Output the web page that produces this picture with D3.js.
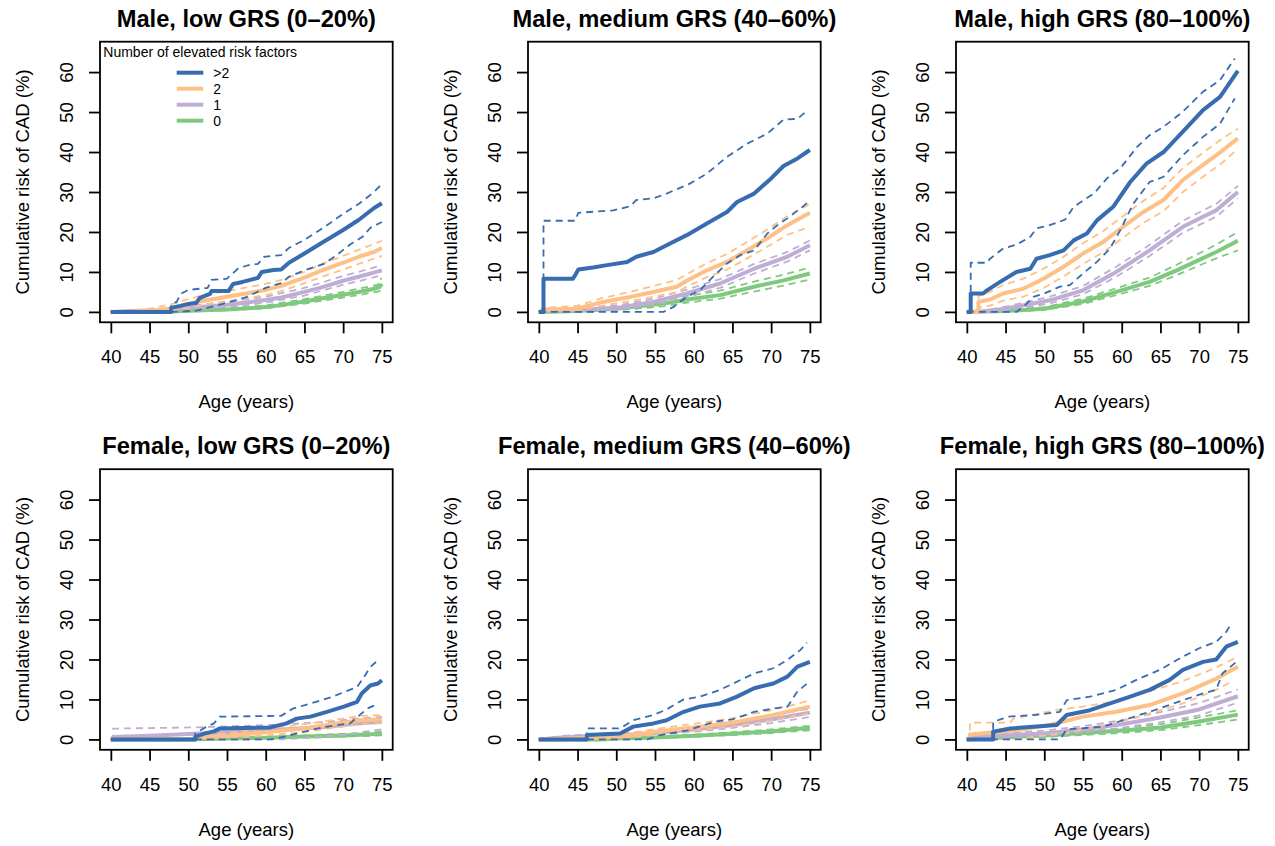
<!DOCTYPE html>
<html>
<head>
<meta charset="utf-8">
<script src="https://cdn.jsdelivr.net/npm/d3@7"></script>
<style>
  body { margin: 0; background: #fff; }
  svg text { font-family: "Liberation Sans", Arial, Helvetica, sans-serif; fill: #000; }
</style>
</head>
<body>
<svg id="chart" width="1275" height="846"></svg>
<script>
// cumulative risk (%) by age: [age, pct]
// g3 = >2 risk factors, g2 = 2, g1 = 1, g0 = 0 ; lo/hi = dashed 95% bands
const maleLow = {
  g3: [[40,0],[47.8,0],[47.8,1],[49,1.5],[50,2],[51,2.2],[51.5,3.5],[52.8,4.5],[53,5.2],[55.2,5.2],[55.8,7],[57,7.5],[58,8],[59,8.5],[59.5,10],[61,10.5],[62,10.6],[63,12.3],[65,14.6],[67,17],[70,20.5],[72,23],[74,26],[75,27.2]],
  g3hi: [[40,0],[47.8,0],[47.8,2],[48.5,2.5],[49,4.5],[50,5.5],[52.5,6],[53,8],[55,8.3],[56.5,11],[58,11.8],[59,12],[59.8,13.8],[62,14.2],[63,16],[65,18],[67,20.5],[70,24.5],[72,27],[74,30],[75,32]],
  g3lo: [[40,0],[47.8,0],[51,0.3],[52,0.8],[54.5,2],[57.5,3.7],[60,6],[62,7.2],[63,8.8],[65,10.4],[67.5,12],[69,14],[71,17],[72.5,18.8],[73.5,21],[75,22.5]],
  g2: [[40,0],[43,0],[45,0.4],[47,0.6],[48,1],[50,2],[52,2.8],[55,3.8],[58,4.8],[60,5.5],[62,6.5],[65,8.6],[67,10.2],[70,12.3],[72,13.8],[74,15],[75,16]],
  g2hi: [[40,0],[43,0.5],[45,0.8],[48,2],[50,3.2],[52,4.2],[55,5.2],[58,6.3],[60,7],[62,8],[65,10],[67,11.8],[70,14],[72,15.5],[75,17.8]],
  g2lo: [[40,0],[45,0],[48,0.3],[50,1],[52,1.8],[55,2.7],[58,3.6],[60,4.2],[62,5.2],[65,7.2],[67,8.6],[70,10.6],[72,12],[75,14]],
  g1: [[40,0],[43,0.2],[48,0.6],[50,1],[55,1.8],[58,2.5],[60,3],[62,3.6],[65,5],[67,6],[70,7.8],[72,8.8],[75,10.4]],
  g1hi: [[40,0],[43,0.4],[48,1],[50,1.5],[55,2.5],[60,3.8],[65,6],[70,9],[72,10],[75,11.7]],
  g1lo: [[40,0],[48,0.3],[50,0.6],[55,1.2],[60,2.3],[65,4.1],[70,6.8],[72,7.7],[75,9.2]],
  g0: [[40,0],[48,0.1],[50,0.3],[55,0.6],[60,1.2],[62,1.7],[65,2.6],[67,3.3],[70,4.3],[72,5],[74,5.8],[74.7,6.2],[75,7]],
  g0hi: [[40,0],[48,0.2],[50,0.5],[55,0.9],[60,1.6],[65,3.2],[70,5],[72,5.8],[74.5,6.8],[74.7,8.3],[75,8.3]],
  g0lo: [[40,0],[50,0.1],[55,0.4],[60,0.9],[65,2.1],[70,3.6],[72,4.2],[75,5.3]]
};

const maleMed = {
  g3: [[40,0],[40.6,0],[40.6,8.3],[44.4,8.3],[44.7,9.2],[45.1,10.6],[47,11.1],[48.8,11.7],[51.4,12.5],[52.6,13.8],[54.8,15],[56.5,16.7],[59.1,19.2],[61.7,22.1],[64.3,25],[65.6,27.5],[67.8,29.6],[70,33.4],[71.6,36.5],[73.4,38.4],[75,40.5]],
  g3hi: [[40,0],[40.6,0],[40.6,22.8],[44.7,22.8],[45.1,24.8],[49.6,25.4],[51.8,26.4],[52.6,28],[54.8,28.4],[56.5,29.6],[59.5,32.1],[61.7,34.6],[64.3,38.8],[66.9,42.1],[69.5,44.6],[71.6,48.1],[73.4,48.3],[74.5,50.1]],
  g3lo: [[40,0],[56.1,0],[57.4,1.25],[59.1,3.75],[60.8,5.4],[62.5,8.8],[64.3,12.1],[66,14.2],[67.8,15.4],[69.5,19.6],[70.8,21.7],[72.1,23.4],[73.8,25.9],[75,27.8]],
  g2: [[40,0],[40.6,0.6],[44.9,0.8],[48.3,2.5],[51.8,3.75],[54.8,5],[57.8,6.3],[59.1,7.8],[61.7,10.4],[64.3,12.5],[66.9,15.4],[69.5,18.4],[72.1,21.7],[75,24.8]],
  g2hi: [[40,0],[40.6,1],[44.9,1.5],[48.3,3.5],[51.8,5],[54.8,6.5],[57.8,8],[59.1,9.4],[61.7,12.2],[64.3,14.5],[66.9,17.5],[69.5,20.6],[72.1,24],[75,27]],
  g2lo: [[40,0],[44.9,0.3],[48.3,1.6],[51.8,2.7],[54.8,3.8],[57.8,4.9],[59.1,6.3],[61.7,8.7],[64.3,10.6],[66.9,13.4],[69.5,16.3],[72.1,19.3],[75,21.3]],
  g1: [[40,0],[40.6,0.2],[45,0.5],[50.5,1.1],[54.8,2.5],[59.1,4.6],[63.4,7.1],[67.8,10.8],[72.1,13.8],[75,16.7]],
  g1hi: [[40,0],[40.6,0.5],[45,0.9],[50.5,1.7],[54.8,3.3],[59.1,5.6],[63.4,8.2],[67.8,12],[72.1,15],[75,17.9]],
  g1lo: [[40,0],[45,0.2],[50.5,0.6],[54.8,1.8],[59.1,3.7],[63.4,6],[67.8,9.6],[72.1,12.6],[75,15.4]],
  g0: [[40,0],[45,0.2],[50,0.8],[56.1,2.1],[59.1,3.1],[63.4,4.2],[67.8,6.3],[71.6,7.9],[75,9.6]],
  g0hi: [[40,0],[45,0.4],[50,1.3],[56.1,2.9],[59.1,4],[63.4,5.3],[67.8,7.6],[71.6,9.3],[75,11.1]],
  g0lo: [[40,0],[47,0.1],[50,0.4],[56.1,1.4],[59.1,2.3],[63.4,3.3],[67.8,5.1],[71.6,6.6],[75,8.1]]
};

const maleHigh = {
  g3: [[40,0],[40.5,0],[40.5,4.6],[42.1,4.6],[42.6,5.4],[44.3,7.5],[46.4,10],[48.2,10.8],[49,13.3],[50.7,14.2],[52.5,15.4],[53.8,17.9],[55.5,19.6],[56.8,22.9],[58.9,26.3],[61.1,32.5],[63.2,37.1],[65.4,40],[67.9,45.1],[70.5,50.5],[72.7,53.8],[75,60.3]],
  g3hi: [[40,0],[40.5,0],[40.5,12.3],[42.6,12.3],[43,13.3],[44.7,15.9],[46.4,16.8],[48.2,18.8],[49,20.9],[50.7,21.7],[52.7,23.1],[53.8,26.3],[56.4,29.6],[58.1,33.4],[59.8,35.9],[62,41.3],[63.6,44.2],[65.4,46.3],[67.9,50.1],[70.5,55.1],[72.7,58],[74.6,63.4]],
  g3lo: [[40,0],[46.4,0],[47.3,1.25],[48.6,3.75],[50,4.6],[52,6.3],[53.3,6.7],[55,9.6],[56.8,12.5],[58.5,15.9],[59.8,20.4],[61.5,27.1],[63.6,32.5],[65.4,33.8],[67.9,39.2],[70.5,43.8],[72.7,47.1],[74.6,53.4]],
  g2: [[40,0],[41.5,0],[41.5,2.5],[43,3.1],[44.7,4.6],[47.3,5.8],[49.9,8.3],[52.5,11.3],[55,14.6],[57.6,17.5],[60.2,21.3],[62.8,25],[65.4,28],[67.9,33],[70.5,36.8],[73.1,40.5],[75,43.4]],
  g2hi: [[40,0],[41.5,0],[41.5,4],[43,5],[44.7,6.8],[47.3,8.3],[49.9,10.8],[52.5,13.8],[55,17.2],[57.6,20.2],[60.2,24],[62.8,27.8],[65.4,31],[67.9,36],[70.5,39.8],[73.1,43.5],[75,45.8]],
  g2lo: [[40,0],[41.5,0],[41.5,1],[43,1.6],[44.7,2.8],[47.3,3.8],[49.9,6],[52.5,8.9],[55,12],[57.6,14.9],[60.2,18.6],[62.8,22.3],[65.4,25.2],[67.9,30],[70.5,33.8],[73.1,37.5],[75,40.8]],
  g1: [[40,0],[42,0.1],[45,0.8],[50.7,2.9],[55,5.4],[59.3,10],[63.6,15.4],[67.9,21.3],[70.5,23.8],[72.2,25.4],[75,30]],
  g1hi: [[40,0],[42,0.3],[45,1.3],[50.7,3.8],[55,6.5],[59.3,11.3],[63.6,16.8],[67.9,22.8],[70.5,25.4],[72.2,27],[75,31.5]],
  g1lo: [[40,0],[43,0],[45,0.4],[50.7,2.1],[55,4.4],[59.3,8.8],[63.6,14],[67.9,19.8],[70.5,22.2],[72.2,23.8],[75,28.4]],
  g0: [[40,0],[45,0.2],[50,0.8],[55,2.6],[59.3,5],[63.6,7.5],[67.1,10.4],[72.2,15],[75,17.8]],
  g0hi: [[40,0],[45,0.4],[50,1.2],[55,3.3],[59.3,5.9],[63.6,8.6],[67.1,11.8],[72.2,16.8],[75,20]],
  g0lo: [[40,0],[46,0.1],[50,0.5],[55,2],[59.3,4.2],[63.6,6.5],[67.1,9.2],[72.2,13.4],[75,15.4]]
};

const femaleLow = {
  g3: [[40,0],[50.9,0],[50.9,0.7],[52.2,1.5],[53.3,2],[54.1,2.75],[60.6,3],[62.7,4],[64,5.2],[65.8,5.7],[67.9,6.9],[70.1,8.2],[71.8,9.4],[72.4,11.5],[73.5,13.5],[74.5,14],[75,14.8]],
  g3hi: [[40,0],[50.9,0],[50.9,1.5],[52.2,3],[53.3,4],[54.1,5.7],[62,5.9],[63.5,7.7],[66.5,9.4],[68.5,10.6],[71.8,13.1],[72.7,15.6],[73.5,18.1],[74.5,19.8]],
  g3lo: [[40,0],[60.6,0],[62.3,0.6],[64.9,1.9],[67.5,3.1],[70.9,4],[73.1,7.7],[74.5,8.9]],
  g2: [[40,0],[50.7,0],[52,0.5],[54.6,0.8],[57,1.2],[60.6,1.9],[64.9,2.75],[69.2,4],[72.2,4.8],[75,5]],
  g2hi: [[40,0],[50.7,0],[52,1],[54.6,1.5],[60.6,2.8],[64.9,3.8],[69.2,5],[72.2,5.9],[75,6.1]],
  g2lo: [[40,0],[54.6,0.2],[60.6,1.1],[64.9,1.8],[69.2,3],[72.2,3.8],[75,4]],
  g1: [[40,0],[40.3,0],[40.3,0.6],[45,0.9],[50.7,1.4],[55,1.8],[60.6,2.3],[67.5,3.1],[71.8,4],[75,4.4]],
  g1hi: [[40,0],[40.3,0],[40.3,2.7],[50.7,3],[60.6,3.6],[67.5,4.3],[71.8,5.2],[75,5.6]],
  g1lo: [[40,0],[62,0],[65,0.4],[70,1.1],[73,2],[75,2.5]],
  g0: [[40,0],[50,0],[55,0.2],[60,0.4],[65,0.7],[70,1],[75,1.4]],
  g0hi: [[40,0],[50,0.1],[55,0.3],[60,0.6],[65,1],[70,1.4],[75,1.9]],
  g0lo: [[40,0],[55,0],[60,0.2],[65,0.4],[70,0.7],[75,1]]
};

const femaleMed = {
  g3: [[40,0],[46.2,0],[46.2,1.1],[50.5,1.5],[52.2,3.2],[54.8,4],[56.5,4.8],[58.7,6.9],[60.8,8.2],[63.4,9],[65.6,10.7],[67.8,12.8],[70.3,14],[72.1,15.7],[73.4,18.2],[75,19.4]],
  g3hi: [[40,0],[46.2,0],[46.2,2.75],[50.5,2.75],[52.2,4.8],[54.8,6.1],[56.5,7.5],[58.7,10],[60.8,10.7],[63.4,12.4],[67.8,16.5],[70.3,17.8],[72.1,19.9],[73.8,22.4],[74.6,24.2]],
  g3lo: [[40,0],[54,0],[55.7,1.1],[59.1,2.2],[62.6,4.4],[65,5],[67.8,6.9],[70.3,7.7],[72.1,8.2],[73.4,12],[74.6,13.9]],
  g2: [[40,0],[44,0.2],[48,0.4],[52,1],[55,1.9],[60,3],[65,4.2],[70,6],[75,8.2]],
  g2hi: [[40,0],[44,0.4],[48,0.8],[52,1.6],[55,2.6],[60,3.9],[65,5.3],[70,7.3],[75,9.7]],
  g2lo: [[40,0],[48,0.1],[52,0.5],[55,1.2],[60,2.2],[65,3.2],[70,4.8],[75,6.5]],
  g1: [[40,0],[43,0.5],[46,0.8],[50,1],[55,1.6],[60,2.5],[65,3.6],[70,5],[75,6.7]],
  g1hi: [[40,0],[43,0.9],[46,1.2],[50,1.4],[55,2.1],[60,3.1],[65,4.4],[70,6],[75,7.7]],
  g1lo: [[40,0],[46,0.3],[50,0.6],[55,1.1],[60,1.9],[65,2.9],[70,4.1],[75,5.6]],
  g0: [[40,0],[48,0],[50,0.2],[55,0.5],[60,0.9],[65,1.4],[70,2],[75,2.9]],
  g0hi: [[40,0],[50,0.3],[55,0.7],[60,1.2],[65,1.8],[70,2.5],[75,3.4]],
  g0lo: [[40,0],[52,0],[55,0.3],[60,0.6],[65,1.1],[70,1.6],[75,2.3]]
};

const femaleHigh = {
  g3: [[40,0],[43.4,0],[43.4,1.9],[45.6,2.75],[49,3.2],[51.6,3.6],[52.9,6.1],[55.9,7.3],[58.5,9],[61.1,10.7],[63.6,12.4],[66.2,14.9],[67.9,17.4],[70.5,19.4],[72.2,20],[73.5,23.2],[75,24.4]],
  g3hi: [[40,0],[43.4,0],[43.4,4.4],[45.4,5.7],[48.8,6.1],[52,6.9],[52.9,9.8],[55.9,10.7],[59.3,12.4],[61.9,14.9],[64.9,17.4],[67.9,20.7],[70,22.8],[72.2,24.4],[73.5,26.9],[74.2,29.1]],
  g3lo: [[40,0],[52,0],[52.9,2.5],[57.6,3.2],[60.2,4.8],[63.6,6.9],[67.9,9.8],[70.5,11.5],[72.2,12.4],[73,16.5],[74.8,19.4]],
  g2: [[40,0],[40.4,0],[40.4,1.2],[46.4,2.3],[50.7,3.6],[55,5.7],[59.3,6.9],[63.6,8.6],[67.9,11.5],[72,15],[75,18.2]],
  g2hi: [[40,0],[40.4,0],[40.4,4.2],[45.6,4.2],[46,5.2],[52,7.5],[55,8.2],[59.3,9.6],[63.6,12],[67.9,14.6],[72,17.8],[75,20.7]],
  g2lo: [[40,0],[46,0],[50,1],[52.9,1.6],[57.6,3.5],[61,5],[63.6,6.5],[67.9,9],[72.2,12.4],[74.4,14.7]],
  g1: [[40,0],[41,0.8],[45,1],[50,1.5],[55,2.5],[60,3.8],[65,5.5],[70,7.5],[75,10.8]],
  g1hi: [[40,0],[41,1.3],[45,1.6],[50,2.2],[55,3.3],[60,4.8],[65,6.8],[70,9.1],[75,12.5]],
  g1lo: [[40,0],[43,0.2],[45,0.5],[50,0.9],[55,1.8],[60,2.9],[65,4.3],[70,6],[75,9.2]],
  g0: [[40,0],[43,0.3],[45,0.5],[50,1],[55,1.6],[60,2.2],[65,3],[70,4.5],[75,6.2]],
  g0hi: [[40,0],[43,0.6],[45,0.9],[50,1.4],[55,2.1],[60,2.8],[65,3.8],[70,5.5],[75,7.3]],
  g0lo: [[40,0],[45,0.2],[50,0.6],[55,1.1],[60,1.6],[65,2.3],[70,3.6],[75,5]]
};

const titles = [
  "Male, low GRS (0\u201320%)", "Male, medium GRS (40\u201360%)", "Male, high GRS (80\u2013100%)",
  "Female, low GRS (0\u201320%)", "Female, medium GRS (40\u201360%)", "Female, high GRS (80\u2013100%)"
];
const panelData = [maleLow, maleMed, maleHigh, femaleLow, femaleMed, femaleHigh];

const groupKeys = ["g0", "g1", "g2", "g3"];
const groupColors = { g0: "#7FC97F", g1: "#BEAED4", g2: "#FDC086", g3: "#386CB0" };
const legendLabels = [">2", "2", "1", "0"];
const legendKeys = ["g3", "g2", "g1", "g0"];

const ageTicks = [40, 45, 50, 55, 60, 65, 70, 75];
const riskTicks = [0, 10, 20, 30, 40, 50, 60];

// layout
const boxW = 292.7, boxH = 280.6;
const colLeft = [100, 528, 956];
const rowTop = [41.7, 469.2];

const x = d3.scaleLinear().domain([38.6, 76.4]).range([0, boxW]);
const y = d3.scaleLinear().domain([-2.6, 67.6]).range([boxH, 0]);

const line = d3.line()
  .x(d => x(d[0]))
  .y(d => y(d[1]));

const svg = d3.select("#chart");

panelData.forEach((data, i) => {
  const col = i % 3, row = Math.floor(i / 3);
  const g = svg.append("g")
    .attr("transform", `translate(${colLeft[col]},${rowTop[row]})`);

  // bands and curves, group 0 first so ">2" ends up on top
  groupKeys.forEach(k => {
    [k + "lo", k + "hi"].forEach(bk => {
      g.append("path")
        .datum(data[bk])
        .attr("d", line)
        .attr("fill", "none")
        .attr("stroke", groupColors[k])
        .attr("stroke-width", 1.8)
        .attr("stroke-dasharray", "7,5");
    });
    g.append("path")
      .datum(data[k])
      .attr("d", line)
      .attr("fill", "none")
      .attr("stroke", groupColors[k])
      .attr("stroke-width", 4)
      .attr("stroke-linejoin", "round");
  });

  // box
  g.append("rect")
    .attr("width", boxW).attr("height", boxH)
    .attr("fill", "none").attr("stroke", "#000").attr("stroke-width", 1.8);

  // x axis
  const xa = g.append("g")
    .attr("transform", `translate(0,${boxH})`)
    .call(d3.axisBottom(x).tickValues(ageTicks).tickSize(11).tickSizeOuter(0).tickPadding(17));
  xa.select(".domain").remove();
  xa.selectAll(".tick line").attr("stroke", "#000").attr("stroke-width", 1.8);
  xa.selectAll(".tick text").attr("font-size", 18.5).attr("font-family", null);

  // y axis, labels parallel to axis
  const ya = g.append("g")
    .call(d3.axisLeft(y).tickValues(riskTicks).tickSize(11).tickSizeOuter(0));
  ya.select(".domain").remove();
  ya.selectAll(".tick line").attr("stroke", "#000").attr("stroke-width", 1.8);
  ya.selectAll(".tick text")
    .attr("x", null).attr("dy", null)
    .attr("text-anchor", "middle")
    .attr("transform", "translate(-27.3,0) rotate(-90)")
    .attr("font-size", 18.5).attr("font-family", null);

  // axis titles
  g.append("text")
    .attr("x", boxW / 2).attr("y", boxH + 86)
    .attr("text-anchor", "middle").attr("font-size", 18.5)
    .text("Age (years)");
  g.append("text")
    .attr("transform", `translate(-71,${boxH / 2}) rotate(-90)`)
    .attr("text-anchor", "middle").attr("font-size", 18.5)
    .text("Cumulative risk of CAD (%)");

  // panel title
  g.append("text")
    .attr("x", boxW / 2).attr("y", -15)
    .attr("text-anchor", "middle").attr("font-size", 23.7).attr("font-weight", "bold")
    .text(titles[i]);

  // legend only in the first panel
  if (i === 0) {
    const lg = g.append("g");
    lg.append("text").attr("x", 3.3).attr("y", 15.3).attr("font-size", 14)
      .text("Number of elevated risk factors");
    legendKeys.forEach((k, j) => {
      const ly = 31 + j * 16;
      lg.append("line")
        .attr("x1", 76.7).attr("x2", 103.3).attr("y1", ly).attr("y2", ly)
        .attr("stroke", groupColors[k]).attr("stroke-width", 4);
      lg.append("text").attr("x", 113.3).attr("y", ly + 5).attr("font-size", 14)
        .text(legendLabels[j]);
    });
  }
});
</script>
</body>
</html>
